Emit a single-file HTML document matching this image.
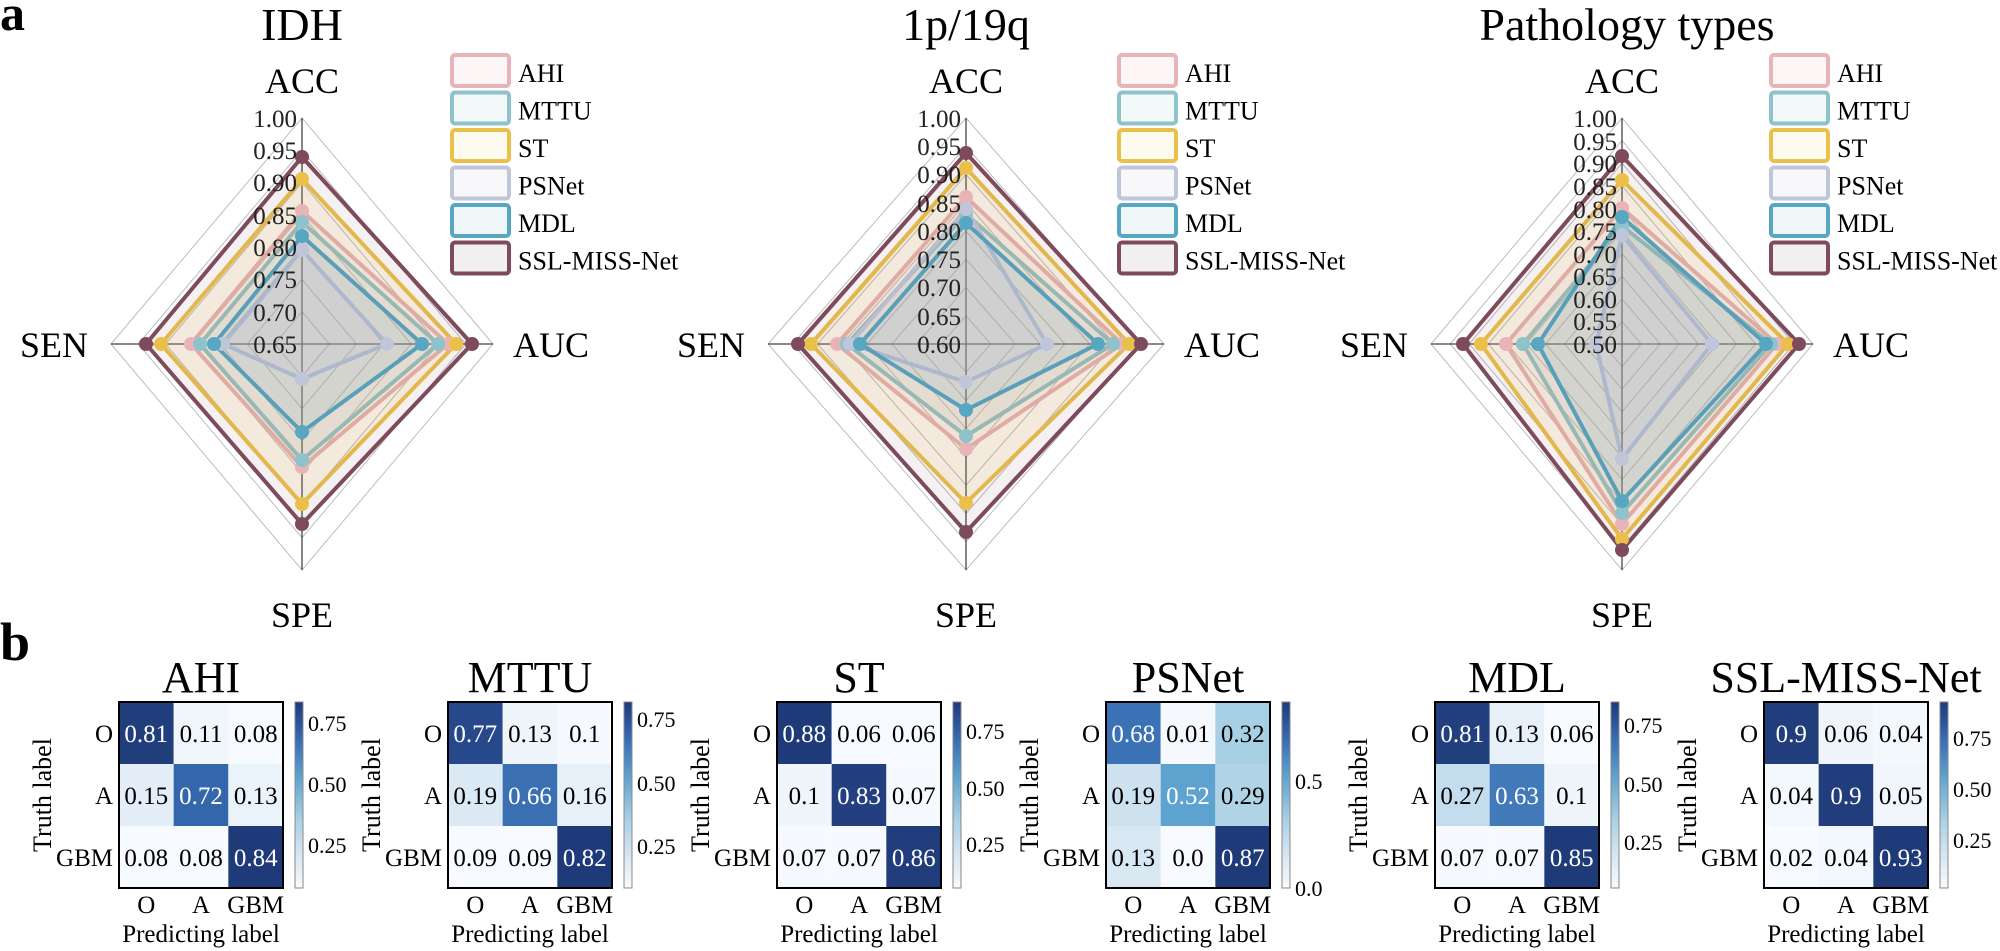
<!DOCTYPE html>
<html><head><meta charset="utf-8"><style>
html,body{margin:0;padding:0;background:#fff;}
svg{display:block;font-family:"Liberation Serif",serif;}
</style></head><body>
<svg width="2000" height="951" viewBox="0 0 2000 951" xmlns="http://www.w3.org/2000/svg">
<defs>
<linearGradient id="cb" x1="0" y1="0" x2="0" y2="1">
<stop offset="0" stop-color="#1f3a78"/><stop offset="0.1" stop-color="#2a5198"/><stop offset="0.22" stop-color="#3a72b5"/><stop offset="0.4" stop-color="#5ea2cf"/><stop offset="0.63" stop-color="#a8d0e4"/><stop offset="0.78" stop-color="#cde1ef"/><stop offset="1" stop-color="#f7fbff"/>
</linearGradient>
</defs>
<rect width="2000" height="951" fill="#fff"/>
<text x="0" y="30" font-size="50" font-weight="bold">a</text>
<text x="0" y="660" font-size="54" font-weight="bold">b</text>

<!-- ================= RADAR 1 ================= -->
<text x="302" y="40" font-size="46" text-anchor="middle">IDH</text>
<g transform="translate(302,344) scale(191,226)" fill="none" stroke="#bdbdbd" stroke-width="1" >
<polygon vector-effect="non-scaling-stroke" points="0,-0.1429 0.1429,0 0,0.1429 -0.1429,0"/>
<polygon vector-effect="non-scaling-stroke" points="0,-0.2857 0.2857,0 0,0.2857 -0.2857,0"/>
<polygon vector-effect="non-scaling-stroke" points="0,-0.4286 0.4286,0 0,0.4286 -0.4286,0"/>
<polygon vector-effect="non-scaling-stroke" points="0,-0.5714 0.5714,0 0,0.5714 -0.5714,0"/>
<polygon vector-effect="non-scaling-stroke" points="0,-0.7143 0.7143,0 0,0.7143 -0.7143,0"/>
<polygon vector-effect="non-scaling-stroke" points="0,-0.8571 0.8571,0 0,0.8571 -0.8571,0"/>
<polygon vector-effect="non-scaling-stroke" points="0,-1 1,0 0,1 -1,0"/>
</g>
<g stroke="#444" stroke-width="1.3"><line x1="302" y1="118" x2="302" y2="570"/><line x1="111" y1="344" x2="493" y2="344"/></g>
<g stroke-width="4" stroke-linejoin="round">
<polygon points="302,211 448,344 302,467 191,344" fill="#e8b4b8" fill-opacity="0.12" stroke="#e8b4b8"/>
<polygon points="302,222 438,344 302,460 200,344" fill="#8fc3cb" fill-opacity="0.12" stroke="#8fc3cb"/>
<polygon points="302,179 456,344 302,504 161,344" fill="#ebc04a" fill-opacity="0.12" stroke="#ebc04a"/>
<polygon points="302,250 387,344 302,379 223,344" fill="#bfc6da" fill-opacity="0.12" stroke="#bfc6da"/>
<polygon points="302,236 422,344 302,432 214,344" fill="#57a7c2" fill-opacity="0.12" stroke="#57a7c2"/>
<polygon points="302,157 472,344 302,524 146,344" fill="#7d4b5c" fill-opacity="0.08" stroke="#7d4b5c"/>
</g>
<g>
<g fill="#e8b4b8"><circle cx="302" cy="211" r="7"/><circle cx="448" cy="344" r="7"/><circle cx="302" cy="467" r="7"/><circle cx="191" cy="344" r="7"/></g>
<g fill="#8fc3cb"><circle cx="302" cy="222" r="7"/><circle cx="438" cy="344" r="7"/><circle cx="302" cy="460" r="7"/><circle cx="200" cy="344" r="7"/></g>
<g fill="#ebc04a"><circle cx="302" cy="179" r="7"/><circle cx="456" cy="344" r="7"/><circle cx="302" cy="504" r="7"/><circle cx="161" cy="344" r="7"/></g>
<g fill="#bfc6da"><circle cx="302" cy="250" r="7"/><circle cx="387" cy="344" r="7"/><circle cx="302" cy="379" r="7"/><circle cx="223" cy="344" r="7"/></g>
<g fill="#57a7c2"><circle cx="302" cy="236" r="7"/><circle cx="422" cy="344" r="7"/><circle cx="302" cy="432" r="7"/><circle cx="214" cy="344" r="7"/></g>
<g fill="#7d4b5c"><circle cx="302" cy="157" r="7"/><circle cx="472" cy="344" r="7"/><circle cx="302" cy="524" r="7"/><circle cx="146" cy="344" r="7"/></g>
</g>
<g font-size="25" text-anchor="end" fill="#222">
<text x="297" y="127">1.00</text><text x="297" y="159">0.95</text><text x="297" y="191">0.90</text><text x="297" y="224">0.85</text><text x="297" y="256">0.80</text><text x="297" y="288">0.75</text><text x="297" y="321">0.70</text><text x="297" y="353">0.65</text>
</g>
<g font-size="36">
<text x="302" y="93" text-anchor="middle">ACC</text>
<text x="88" y="357" text-anchor="end">SEN</text>
<text x="513" y="357">AUC</text>
<text x="302" y="627" text-anchor="middle">SPE</text>
</g>
<g stroke-width="4">
<rect x="452" y="55" width="57" height="31" rx="3" fill="#fcf6f7" stroke="#e8b4b8"/>
<rect x="452" y="92.5" width="57" height="31" rx="3" fill="#f3f8f9" stroke="#8fc3cb"/>
<rect x="452" y="130" width="57" height="31" rx="3" fill="#fdfaf0" stroke="#ebc04a"/>
<rect x="452" y="167.5" width="57" height="31" rx="3" fill="#f8f8fa" stroke="#bfc6da"/>
<rect x="452" y="205" width="57" height="31" rx="3" fill="#eff7f9" stroke="#57a7c2"/>
<rect x="452" y="242.5" width="57" height="31" rx="3" fill="#f1eff0" stroke="#7d4b5c"/>
</g>
<g font-size="26">
<text x="518" y="82">AHI</text><text x="518" y="119.5">MTTU</text><text x="518" y="157">ST</text><text x="518" y="194.5">PSNet</text><text x="518" y="232">MDL</text><text x="518" y="269.5">SSL-MISS-Net</text>
</g>

<!-- ================= RADAR 2 ================= -->
<text x="966" y="40" font-size="46" text-anchor="middle">1p/19q</text>
<g transform="translate(966,344) scale(198,226)" fill="none" stroke="#bdbdbd">
<polygon vector-effect="non-scaling-stroke" points="0,-0.125 0.125,0 0,0.125 -0.125,0"/>
<polygon vector-effect="non-scaling-stroke" points="0,-0.25 0.25,0 0,0.25 -0.25,0"/>
<polygon vector-effect="non-scaling-stroke" points="0,-0.375 0.375,0 0,0.375 -0.375,0"/>
<polygon vector-effect="non-scaling-stroke" points="0,-0.5 0.5,0 0,0.5 -0.5,0"/>
<polygon vector-effect="non-scaling-stroke" points="0,-0.625 0.625,0 0,0.625 -0.625,0"/>
<polygon vector-effect="non-scaling-stroke" points="0,-0.75 0.75,0 0,0.75 -0.75,0"/>
<polygon vector-effect="non-scaling-stroke" points="0,-0.875 0.875,0 0,0.875 -0.875,0"/>
<polygon vector-effect="non-scaling-stroke" points="0,-1 1,0 0,1 -1,0"/>
</g>
<g stroke="#444" stroke-width="1.3"><line x1="966" y1="118" x2="966" y2="570"/><line x1="768" y1="344" x2="1164" y2="344"/></g>
<g stroke-width="4" stroke-linejoin="round">
<polygon points="966,197 1122,344 966,449 837,344" fill="#e8b4b8" fill-opacity="0.12" stroke="#e8b4b8"/>
<polygon points="966,214 1113,344 966,436 847,344" fill="#8fc3cb" fill-opacity="0.12" stroke="#8fc3cb"/>
<polygon points="966,168 1129,344 966,503 811,344" fill="#ebc04a" fill-opacity="0.12" stroke="#ebc04a"/>
<polygon points="966,209 1047,344 966,382 850,344" fill="#bfc6da" fill-opacity="0.12" stroke="#bfc6da"/>
<polygon points="966,223 1098,344 966,410 860,344" fill="#57a7c2" fill-opacity="0.12" stroke="#57a7c2"/>
<polygon points="966,153 1141,344 966,532 798,344" fill="#7d4b5c" fill-opacity="0.08" stroke="#7d4b5c"/>
</g>
<g>
<g fill="#e8b4b8"><circle cx="966" cy="197" r="7"/><circle cx="1122" cy="344" r="7"/><circle cx="966" cy="449" r="7"/><circle cx="837" cy="344" r="7"/></g>
<g fill="#8fc3cb"><circle cx="966" cy="214" r="7"/><circle cx="1113" cy="344" r="7"/><circle cx="966" cy="436" r="7"/><circle cx="847" cy="344" r="7"/></g>
<g fill="#ebc04a"><circle cx="966" cy="168" r="7"/><circle cx="1129" cy="344" r="7"/><circle cx="966" cy="503" r="7"/><circle cx="811" cy="344" r="7"/></g>
<g fill="#bfc6da"><circle cx="966" cy="209" r="7"/><circle cx="1047" cy="344" r="7"/><circle cx="966" cy="382" r="7"/><circle cx="850" cy="344" r="7"/></g>
<g fill="#57a7c2"><circle cx="966" cy="223" r="7"/><circle cx="1098" cy="344" r="7"/><circle cx="966" cy="410" r="7"/><circle cx="860" cy="344" r="7"/></g>
<g fill="#7d4b5c"><circle cx="966" cy="153" r="7"/><circle cx="1141" cy="344" r="7"/><circle cx="966" cy="532" r="7"/><circle cx="798" cy="344" r="7"/></g>
</g>
<g font-size="25" text-anchor="end" fill="#222">
<text x="961" y="127">1.00</text><text x="961" y="155">0.95</text><text x="961" y="183">0.90</text><text x="961" y="212">0.85</text><text x="961" y="240">0.80</text><text x="961" y="268">0.75</text><text x="961" y="296">0.70</text><text x="961" y="325">0.65</text><text x="961" y="353">0.60</text>
</g>
<g font-size="36">
<text x="966" y="93" text-anchor="middle">ACC</text>
<text x="745" y="357" text-anchor="end">SEN</text>
<text x="1184" y="357">AUC</text>
<text x="966" y="627" text-anchor="middle">SPE</text>
</g>
<g stroke-width="4">
<rect x="1119" y="55" width="57" height="31" rx="3" fill="#fcf6f7" stroke="#e8b4b8"/>
<rect x="1119" y="92.5" width="57" height="31" rx="3" fill="#f3f8f9" stroke="#8fc3cb"/>
<rect x="1119" y="130" width="57" height="31" rx="3" fill="#fdfaf0" stroke="#ebc04a"/>
<rect x="1119" y="167.5" width="57" height="31" rx="3" fill="#f8f8fa" stroke="#bfc6da"/>
<rect x="1119" y="205" width="57" height="31" rx="3" fill="#eff7f9" stroke="#57a7c2"/>
<rect x="1119" y="242.5" width="57" height="31" rx="3" fill="#f1eff0" stroke="#7d4b5c"/>
</g>
<g font-size="26">
<text x="1185" y="82">AHI</text><text x="1185" y="119.5">MTTU</text><text x="1185" y="157">ST</text><text x="1185" y="194.5">PSNet</text><text x="1185" y="232">MDL</text><text x="1185" y="269.5">SSL-MISS-Net</text>
</g>

<!-- ================= RADAR 3 ================= -->
<text x="1627" y="40" font-size="46" text-anchor="middle">Pathology types</text>
<g transform="translate(1622,344) scale(191,226)" fill="none" stroke="#bdbdbd">
<polygon vector-effect="non-scaling-stroke" points="0,-0.1 0.1,0 0,0.1 -0.1,0"/>
<polygon vector-effect="non-scaling-stroke" points="0,-0.2 0.2,0 0,0.2 -0.2,0"/>
<polygon vector-effect="non-scaling-stroke" points="0,-0.3 0.3,0 0,0.3 -0.3,0"/>
<polygon vector-effect="non-scaling-stroke" points="0,-0.4 0.4,0 0,0.4 -0.4,0"/>
<polygon vector-effect="non-scaling-stroke" points="0,-0.5 0.5,0 0,0.5 -0.5,0"/>
<polygon vector-effect="non-scaling-stroke" points="0,-0.6 0.6,0 0,0.6 -0.6,0"/>
<polygon vector-effect="non-scaling-stroke" points="0,-0.7 0.7,0 0,0.7 -0.7,0"/>
<polygon vector-effect="non-scaling-stroke" points="0,-0.8 0.8,0 0,0.8 -0.8,0"/>
<polygon vector-effect="non-scaling-stroke" points="0,-0.9 0.9,0 0,0.9 -0.9,0"/>
<polygon vector-effect="non-scaling-stroke" points="0,-1 1,0 0,1 -1,0"/>
</g>
<g stroke="#444" stroke-width="1.3"><line x1="1622" y1="118" x2="1622" y2="570"/><line x1="1431" y1="344" x2="1813" y2="344"/></g>
<g stroke-width="4" stroke-linejoin="round">
<polygon points="1622,208 1777,344 1622,524 1506,344" fill="#e8b4b8" fill-opacity="0.12" stroke="#e8b4b8"/>
<polygon points="1622,226 1771,344 1622,513 1523,344" fill="#8fc3cb" fill-opacity="0.12" stroke="#8fc3cb"/>
<polygon points="1622,180 1788,344 1622,539 1481,344" fill="#ebc04a" fill-opacity="0.12" stroke="#ebc04a"/>
<polygon points="1622,235 1712,344 1622,459 1596,344" fill="#bfc6da" fill-opacity="0.12" stroke="#bfc6da"/>
<polygon points="1622,217 1766,344 1622,501 1538,344" fill="#57a7c2" fill-opacity="0.12" stroke="#57a7c2"/>
<polygon points="1622,156 1799,344 1622,550 1463,344" fill="#7d4b5c" fill-opacity="0.08" stroke="#7d4b5c"/>
</g>
<g>
<g fill="#e8b4b8"><circle cx="1622" cy="208" r="7"/><circle cx="1777" cy="344" r="7"/><circle cx="1622" cy="524" r="7"/><circle cx="1506" cy="344" r="7"/></g>
<g fill="#8fc3cb"><circle cx="1622" cy="226" r="7"/><circle cx="1771" cy="344" r="7"/><circle cx="1622" cy="513" r="7"/><circle cx="1523" cy="344" r="7"/></g>
<g fill="#ebc04a"><circle cx="1622" cy="180" r="7"/><circle cx="1788" cy="344" r="7"/><circle cx="1622" cy="539" r="7"/><circle cx="1481" cy="344" r="7"/></g>
<g fill="#bfc6da"><circle cx="1622" cy="235" r="7"/><circle cx="1712" cy="344" r="7"/><circle cx="1622" cy="459" r="7"/><circle cx="1596" cy="344" r="7"/></g>
<g fill="#57a7c2"><circle cx="1622" cy="217" r="7"/><circle cx="1766" cy="344" r="7"/><circle cx="1622" cy="501" r="7"/><circle cx="1538" cy="344" r="7"/></g>
<g fill="#7d4b5c"><circle cx="1622" cy="156" r="7"/><circle cx="1799" cy="344" r="7"/><circle cx="1622" cy="550" r="7"/><circle cx="1463" cy="344" r="7"/></g>
</g>
<g font-size="25" text-anchor="end" fill="#222">
<text x="1617" y="127">1.00</text><text x="1617" y="150">0.95</text><text x="1617" y="172">0.90</text><text x="1617" y="195">0.85</text><text x="1617" y="218">0.80</text><text x="1617" y="240">0.75</text><text x="1617" y="263">0.70</text><text x="1617" y="285">0.65</text><text x="1617" y="308">0.60</text><text x="1617" y="330">0.55</text><text x="1617" y="353">0.50</text>
</g>
<g font-size="36">
<text x="1622" y="93" text-anchor="middle">ACC</text>
<text x="1408" y="357" text-anchor="end">SEN</text>
<text x="1833" y="357">AUC</text>
<text x="1622" y="627" text-anchor="middle">SPE</text>
</g>
<g stroke-width="4">
<rect x="1771" y="55" width="57" height="31" rx="3" fill="#fcf6f7" stroke="#e8b4b8"/>
<rect x="1771" y="92.5" width="57" height="31" rx="3" fill="#f3f8f9" stroke="#8fc3cb"/>
<rect x="1771" y="130" width="57" height="31" rx="3" fill="#fdfaf0" stroke="#ebc04a"/>
<rect x="1771" y="167.5" width="57" height="31" rx="3" fill="#f8f8fa" stroke="#bfc6da"/>
<rect x="1771" y="205" width="57" height="31" rx="3" fill="#eff7f9" stroke="#57a7c2"/>
<rect x="1771" y="242.5" width="57" height="31" rx="3" fill="#f1eff0" stroke="#7d4b5c"/>
</g>
<g font-size="26">
<text x="1837" y="82">AHI</text><text x="1837" y="119.5">MTTU</text><text x="1837" y="157">ST</text><text x="1837" y="194.5">PSNet</text><text x="1837" y="232">MDL</text><text x="1837" y="269.5">SSL-MISS-Net</text>
</g>

<!-- ================= CONFUSION MATRICES ================= -->
<!-- AHI x0=119 -->
<g transform="translate(119,0)">
<text x="82" y="692" font-size="44" text-anchor="middle">AHI</text>
<rect x="0" y="702" width="54.67" height="62" fill="#213e7c"/><rect x="54.67" y="702" width="54.67" height="62" fill="#f1f6fb"/><rect x="109.33" y="702" width="54.67" height="62" fill="#f7fbff"/>
<rect x="0" y="764" width="54.67" height="62" fill="#e3eef8"/><rect x="54.67" y="764" width="54.67" height="62" fill="#3466ac"/><rect x="109.33" y="764" width="54.67" height="62" fill="#ebf3fa"/>
<rect x="0" y="826" width="54.67" height="62" fill="#f7fbff"/><rect x="54.67" y="826" width="54.67" height="62" fill="#f7fbff"/><rect x="109.33" y="826" width="54.67" height="62" fill="#1f3a78"/>
<rect x="0" y="702" width="164" height="186" fill="none" stroke="#000" stroke-width="2"/>
<g font-size="25" text-anchor="middle"><text x="27.3" y="742" fill="#fff">0.81</text><text x="82" y="742">0.11</text><text x="136.7" y="742">0.08</text><text x="27.3" y="804">0.15</text><text x="82" y="804" fill="#fff">0.72</text><text x="136.7" y="804">0.13</text><text x="27.3" y="866">0.08</text><text x="82" y="866">0.08</text><text x="136.7" y="866" fill="#fff">0.84</text></g>
<rect x="176" y="702" width="8" height="186" fill="url(#cb)" stroke="#888" stroke-width="1"/>
<g font-size="22"><text x="189" y="731">0.75</text><text x="189" y="792">0.50</text><text x="189" y="853">0.25</text></g>
<g font-size="25" text-anchor="end"><text x="-6" y="742">O</text><text x="-6" y="804">A</text><text x="-6" y="866">GBM</text></g>
<g font-size="25" text-anchor="middle"><text x="27.3" y="913">O</text><text x="82" y="913">A</text><text x="136.7" y="913">GBM</text><text x="82" y="942">Predicting label</text></g>
<text transform="translate(-68,795) rotate(-90)" font-size="26" text-anchor="middle">Truth label</text>
</g>

<!-- MTTU x0=448 -->
<g transform="translate(448,0)">
<text x="82" y="692" font-size="44" text-anchor="middle">MTTU</text>
<rect x="0" y="702" width="54.67" height="62" fill="#27488a"/><rect x="54.67" y="702" width="54.67" height="62" fill="#eef5fb"/><rect x="109.33" y="702" width="54.67" height="62" fill="#f6fafe"/>
<rect x="0" y="764" width="54.67" height="62" fill="#dbe9f5"/><rect x="54.67" y="764" width="54.67" height="62" fill="#3a6fb2"/><rect x="109.33" y="764" width="54.67" height="62" fill="#e6f0f8"/>
<rect x="0" y="826" width="54.67" height="62" fill="#f7fbff"/><rect x="54.67" y="826" width="54.67" height="62" fill="#f7fbff"/><rect x="109.33" y="826" width="54.67" height="62" fill="#1f3a78"/>
<rect x="0" y="702" width="164" height="186" fill="none" stroke="#000" stroke-width="2"/>
<g font-size="25" text-anchor="middle"><text x="27.3" y="742" fill="#fff">0.77</text><text x="82" y="742">0.13</text><text x="136.7" y="742">0.1</text><text x="27.3" y="804">0.19</text><text x="82" y="804" fill="#fff">0.66</text><text x="136.7" y="804">0.16</text><text x="27.3" y="866">0.09</text><text x="82" y="866">0.09</text><text x="136.7" y="866" fill="#fff">0.82</text></g>
<rect x="176" y="702" width="8" height="186" fill="url(#cb)" stroke="#888" stroke-width="1"/>
<g font-size="22"><text x="189" y="727">0.75</text><text x="189" y="791">0.50</text><text x="189" y="854">0.25</text></g>
<g font-size="25" text-anchor="end"><text x="-6" y="742">O</text><text x="-6" y="804">A</text><text x="-6" y="866">GBM</text></g>
<g font-size="25" text-anchor="middle"><text x="27.3" y="913">O</text><text x="82" y="913">A</text><text x="136.7" y="913">GBM</text><text x="82" y="942">Predicting label</text></g>
<text transform="translate(-68,795) rotate(-90)" font-size="26" text-anchor="middle">Truth label</text>
</g>

<!-- ST x0=777 -->
<g transform="translate(777,0)">
<text x="82" y="692" font-size="44" text-anchor="middle">ST</text>
<rect x="0" y="702" width="54.67" height="62" fill="#1f3a78"/><rect x="54.67" y="702" width="54.67" height="62" fill="#f7fbff"/><rect x="109.33" y="702" width="54.67" height="62" fill="#f7fbff"/>
<rect x="0" y="764" width="54.67" height="62" fill="#eff5fb"/><rect x="54.67" y="764" width="54.67" height="62" fill="#243f80"/><rect x="109.33" y="764" width="54.67" height="62" fill="#f6fafe"/>
<rect x="0" y="826" width="54.67" height="62" fill="#f6fafe"/><rect x="54.67" y="826" width="54.67" height="62" fill="#f6fafe"/><rect x="109.33" y="826" width="54.67" height="62" fill="#203c7a"/>
<rect x="0" y="702" width="164" height="186" fill="none" stroke="#000" stroke-width="2"/>
<g font-size="25" text-anchor="middle"><text x="27.3" y="742" fill="#fff">0.88</text><text x="82" y="742">0.06</text><text x="136.7" y="742">0.06</text><text x="27.3" y="804">0.1</text><text x="82" y="804" fill="#fff">0.83</text><text x="136.7" y="804">0.07</text><text x="27.3" y="866">0.07</text><text x="82" y="866">0.07</text><text x="136.7" y="866" fill="#fff">0.86</text></g>
<rect x="176" y="702" width="8" height="186" fill="url(#cb)" stroke="#888" stroke-width="1"/>
<g font-size="22"><text x="189" y="739">0.75</text><text x="189" y="796">0.50</text><text x="189" y="852">0.25</text></g>
<g font-size="25" text-anchor="end"><text x="-6" y="742">O</text><text x="-6" y="804">A</text><text x="-6" y="866">GBM</text></g>
<g font-size="25" text-anchor="middle"><text x="27.3" y="913">O</text><text x="82" y="913">A</text><text x="136.7" y="913">GBM</text><text x="82" y="942">Predicting label</text></g>
<text transform="translate(-68,795) rotate(-90)" font-size="26" text-anchor="middle">Truth label</text>
</g>

<!-- PSNet x0=1106 -->
<g transform="translate(1106,0)">
<text x="82" y="692" font-size="44" text-anchor="middle">PSNet</text>
<rect x="0" y="702" width="54.67" height="62" fill="#3a72b5"/><rect x="54.67" y="702" width="54.67" height="62" fill="#f5f9fd"/><rect x="109.33" y="702" width="54.67" height="62" fill="#a8d0e4"/>
<rect x="0" y="764" width="54.67" height="62" fill="#cde1ef"/><rect x="54.67" y="764" width="54.67" height="62" fill="#5ea2cf"/><rect x="109.33" y="764" width="54.67" height="62" fill="#b0d4e6"/>
<rect x="0" y="826" width="54.67" height="62" fill="#d8e8f3"/><rect x="54.67" y="826" width="54.67" height="62" fill="#f7fbff"/><rect x="109.33" y="826" width="54.67" height="62" fill="#1f3a78"/>
<rect x="0" y="702" width="164" height="186" fill="none" stroke="#000" stroke-width="2"/>
<g font-size="25" text-anchor="middle"><text x="27.3" y="742" fill="#fff">0.68</text><text x="82" y="742">0.01</text><text x="136.7" y="742">0.32</text><text x="27.3" y="804">0.19</text><text x="82" y="804" fill="#fff">0.52</text><text x="136.7" y="804">0.29</text><text x="27.3" y="866">0.13</text><text x="82" y="866">0.0</text><text x="136.7" y="866" fill="#fff">0.87</text></g>
<rect x="176" y="702" width="8" height="186" fill="url(#cb)" stroke="#888" stroke-width="1"/>
<g font-size="22"><text x="189" y="789">0.5</text><text x="189" y="896">0.0</text></g>
<g font-size="25" text-anchor="end"><text x="-6" y="742">O</text><text x="-6" y="804">A</text><text x="-6" y="866">GBM</text></g>
<g font-size="25" text-anchor="middle"><text x="27.3" y="913">O</text><text x="82" y="913">A</text><text x="136.7" y="913">GBM</text><text x="82" y="942">Predicting label</text></g>
<text transform="translate(-68,795) rotate(-90)" font-size="26" text-anchor="middle">Truth label</text>
</g>

<!-- MDL x0=1435 -->
<g transform="translate(1435,0)">
<text x="82" y="692" font-size="44" text-anchor="middle">MDL</text>
<rect x="0" y="702" width="54.67" height="62" fill="#223f7e"/><rect x="54.67" y="702" width="54.67" height="62" fill="#e7f0f8"/><rect x="109.33" y="702" width="54.67" height="62" fill="#f7fbff"/>
<rect x="0" y="764" width="54.67" height="62" fill="#c3dcee"/><rect x="54.67" y="764" width="54.67" height="62" fill="#4279b9"/><rect x="109.33" y="764" width="54.67" height="62" fill="#eff5fb"/>
<rect x="0" y="826" width="54.67" height="62" fill="#f6fafe"/><rect x="54.67" y="826" width="54.67" height="62" fill="#f6fafe"/><rect x="109.33" y="826" width="54.67" height="62" fill="#1f3a78"/>
<rect x="0" y="702" width="164" height="186" fill="none" stroke="#000" stroke-width="2"/>
<g font-size="25" text-anchor="middle"><text x="27.3" y="742" fill="#fff">0.81</text><text x="82" y="742">0.13</text><text x="136.7" y="742">0.06</text><text x="27.3" y="804">0.27</text><text x="82" y="804" fill="#fff">0.63</text><text x="136.7" y="804">0.1</text><text x="27.3" y="866">0.07</text><text x="82" y="866">0.07</text><text x="136.7" y="866" fill="#fff">0.85</text></g>
<rect x="176" y="702" width="8" height="186" fill="url(#cb)" stroke="#888" stroke-width="1"/>
<g font-size="22"><text x="189" y="733">0.75</text><text x="189" y="792">0.50</text><text x="189" y="850">0.25</text></g>
<g font-size="25" text-anchor="end"><text x="-6" y="742">O</text><text x="-6" y="804">A</text><text x="-6" y="866">GBM</text></g>
<g font-size="25" text-anchor="middle"><text x="27.3" y="913">O</text><text x="82" y="913">A</text><text x="136.7" y="913">GBM</text><text x="82" y="942">Predicting label</text></g>
<text transform="translate(-68,795) rotate(-90)" font-size="26" text-anchor="middle">Truth label</text>
</g>

<!-- SSL-MISS-Net x0=1764 -->
<g transform="translate(1764,0)">
<text x="82" y="692" font-size="44" text-anchor="middle">SSL-MISS-Net</text>
<rect x="0" y="702" width="54.67" height="62" fill="#213d7b"/><rect x="54.67" y="702" width="54.67" height="62" fill="#eff5fb"/><rect x="109.33" y="702" width="54.67" height="62" fill="#f3f8fc"/>
<rect x="0" y="764" width="54.67" height="62" fill="#f3f8fc"/><rect x="54.67" y="764" width="54.67" height="62" fill="#213d7b"/><rect x="109.33" y="764" width="54.67" height="62" fill="#f1f6fc"/>
<rect x="0" y="826" width="54.67" height="62" fill="#f7fbff"/><rect x="54.67" y="826" width="54.67" height="62" fill="#f3f8fc"/><rect x="109.33" y="826" width="54.67" height="62" fill="#1f3a78"/>
<rect x="0" y="702" width="164" height="186" fill="none" stroke="#000" stroke-width="2"/>
<g font-size="25" text-anchor="middle"><text x="27.3" y="742" fill="#fff">0.9</text><text x="82" y="742">0.06</text><text x="136.7" y="742">0.04</text><text x="27.3" y="804">0.04</text><text x="82" y="804" fill="#fff">0.9</text><text x="136.7" y="804">0.05</text><text x="27.3" y="866">0.02</text><text x="82" y="866">0.04</text><text x="136.7" y="866" fill="#fff">0.93</text></g>
<rect x="176" y="702" width="8" height="186" fill="url(#cb)" stroke="#888" stroke-width="1"/>
<g font-size="22"><text x="189" y="746">0.75</text><text x="189" y="797">0.50</text><text x="189" y="848">0.25</text></g>
<g font-size="25" text-anchor="end"><text x="-6" y="742">O</text><text x="-6" y="804">A</text><text x="-6" y="866">GBM</text></g>
<g font-size="25" text-anchor="middle"><text x="27.3" y="913">O</text><text x="82" y="913">A</text><text x="136.7" y="913">GBM</text><text x="82" y="942">Predicting label</text></g>
<text transform="translate(-68,795) rotate(-90)" font-size="26" text-anchor="middle">Truth label</text>
</g>
</svg>
</body></html>
